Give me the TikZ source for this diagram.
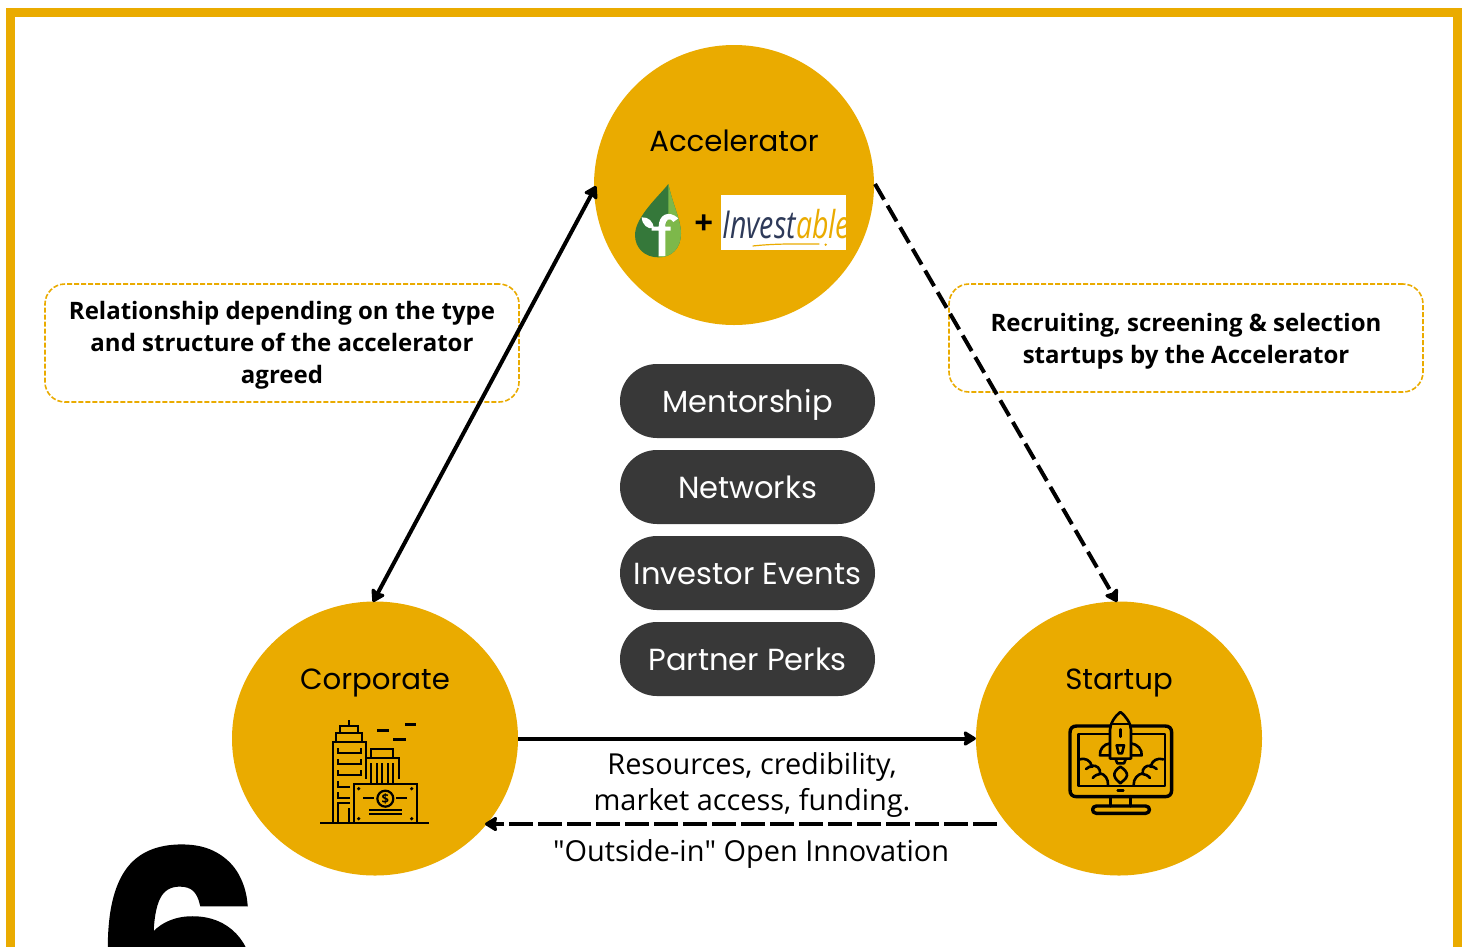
\documentclass[tikz,border=0pt]{standalone}
\usepackage{fontspec}
\usetikzlibrary{arrows.meta,shapes.geometric}
\setmainfont{Open Sans}
\newfontfamily\headfont{Poppins}
\font\qfont="Open Sans" at 28.9pt
\font\sixfont="Poppins/B:embolden=2" at 267pt
\definecolor{gold}{HTML}{EAAB00}
\definecolor{pillc}{HTML}{383838}
\definecolor{navy}{HTML}{2E3A59}
\definecolor{gdark}{HTML}{35783A}
\definecolor{glight}{HTML}{7DB84A}
\tikzset{
 x=1pt,y=-1pt,
 hub/.style={draw=none,fill=gold,ellipse,inner sep=0pt,minimum width=#1},
 hublabel/.style={font=\headfont\fontsize{29.2}{32}\selectfont,text=black,anchor=base,inner sep=0pt},
 pill/.style={fill=pillc,rounded corners=37pt,minimum width=255pt,minimum height=74pt,inner sep=0pt,text=white,text height=28pt,text depth=6pt,font=\headfont\fontsize{30.5}{32}\selectfont},
 notebox/.style={draw=gold,line width=1.6pt,dash pattern=on 5pt off 2pt,rounded corners=20pt,inner sep=0pt,align=center},
 notetext/.style={align=center,inner sep=0pt,font=\bfseries\fontsize{24}{32}\selectfont},
 conn/.style={line width=4pt,-{Stealth[length=14pt,width=17pt,inset=2pt,round]},black},
 connboth/.style={line width=4pt,{Stealth[length=14pt,width=17pt,inset=2pt,round]}-{Stealth[length=14pt,width=17pt,inset=2pt,round]},black},
 dconn/.style={conn,dash pattern=on 18pt off 7pt},
 dconnh/.style={conn,dash pattern=on 24pt off 5pt},
 captext/.style={font=\fontsize{28.9}{36}\selectfont,align=center,text=black},
 ico/.style={line width=2.2pt,black,line cap=butt,line join=miter},
 icoR/.style={line width=2.6pt,black,line cap=round,line join=round},
}
\begin{document}
\begin{tikzpicture}
\useasboundingbox (0,0) rectangle (1466,946);
\begin{scope}
\clip (0,0) rectangle (1466,946);
\fill[white] (0,0) rectangle (1466,946);
\draw[gold,line width=9pt] (10.5,12.5) rectangle (1457.5,1000);
% the big number
\node[font=\sixfont,text=black,anchor=base] (six) at (179,1046) {6};

% hubs
\node[hub=280pt,minimum height=280pt] (acc) at (734,185) {};
\node[hub=286pt,minimum height=274pt] (corp) at (375,738.5) {};
\node[hub=286pt,minimum height=274pt] (start) at (1119,738.5) {};
\node[hublabel] (acclabel) at (734,151) {Accelerator};
\node[hublabel] (corplabel) at (375,689) {Corporate};
\node[hublabel] (startlabel) at (1119,689) {Startup};

% note boxes
\node[notebox,minimum width=474pt,minimum height=118pt] (noteL) at (282,343) {};
\node[notetext] (noteLt) at (282,345) {Relationship depending on the type\\and structure of the accelerator\\agreed};
\node[notebox,minimum width=474pt,minimum height=108pt] (noteR) at (1186,338) {};
\node[notetext] (noteRt) at (1186,341) {Recruiting, screening \& selection\\startups by the Accelerator};

% pills
\node[pill] (p1) at (747.5,401) {Mentorship};
\node[pill] (p2) at (747.5,487) {Networks};
\node[pill] (p3) at (747.5,573) {Investor Events};
\node[pill] (p4) at (747.5,659) {Partner Perks};

% connectors
\coordinate (accW) at (596,186);
\coordinate (corpN) at (373,602);
\coordinate (accE) at (875,184);
\coordinate (startN) at (1117,602);
\coordinate (dashS) at (997,824);
\coordinate (dashE) at (485,824);
\draw[connboth] (accW) -- (corpN);
\draw[dconn] (accE) -- (startN);
\draw[conn] (corp.east) -- (start.west);
\draw[dconnh] (dashS) -- (dashE);

\node[captext] (res) at (752,785) {Resources, credibility,\hspace{7pt}\\market access, funding.};
\node[captext] (out) at (751,854) {{\qfont"}Outside-in{\qfont"} Open Innovation};

% accelerator logos
\begin{scope}[shift={(610,170)},scale=1/3]
 \fill[gdark] (175,42) .. controls (150,75) and (75,140) .. (75,195) .. controls (75,235) and (105,262) .. (145,262) .. controls (185,262) and (213,235) .. (213,190) .. controls (213,150) and (190,110) .. (175,42) -- cycle;
 \fill[glight] (175,42) .. controls (190,110) and (213,150) .. (213,190) .. controls (213,235) and (185,262) .. (145,262) -- (175,130) -- cycle;
 \fill[white] (146,258) -- (146,182) -- (125,182) -- (125,170) -- (146,170) .. controls (146,135) and (175,118) .. (205,145) -- (190,156) .. controls (178,140) and (166,148) .. (166,170) -- (182,170) -- (182,182) -- (166,182) -- (166,258) -- cycle;
 \fill[white] (95,142) .. controls (115,140) and (130,155) .. (132,175) .. controls (112,178) and (97,165) .. (95,142) -- cycle;
 \fill[white] (333,75) rectangle (708,240);
 \node[font=\bfseries\fontsize{33}{33}\selectfont,text=black] (plus) at (281,165) {+};
 \node[anchor=base east,inner sep=0pt,font=\itshape\fontsize{28.5}{30}\selectfont,text=navy] (logoA) at (558,205) {\scalebox{1}[1.35]{Invest}};
 \node[anchor=base west,inner sep=0pt,font=\itshape\fontsize{28.5}{30}\selectfont,text=gold] (logoB) at (558,205) {\scalebox{1}[1.35]{able}};
 \draw[gold,line width=1.2pt] (428,228) .. controls (500,220) and (570,222) .. (628,222);
 \fill[gold] (647,224) circle (4);
\end{scope}

% corporate icon
\begin{scope}[shift={(300,700)},scale=1/3]
 \draw[ico] (60,369) -- (387,369);
 \draw[ico] (98,369) -- (98,125) -- (197,125) -- (197,237);
 \draw[ico] (108,125) -- (108,98) -- (187,98) -- (187,125);
 \draw[ico] (120,98) -- (120,78) -- (174,78) -- (174,98);
 \draw[ico] (147,78) -- (147,60);
 \draw[ico] (113,145) -- (113,160) -- (182,160) -- (182,145);
 \draw[ico] (113,178) -- (113,193) -- (182,193) -- (182,178);
 \draw[ico] (113,211) -- (113,226) -- (182,226) -- (182,211);
 \draw[ico] (113,244) -- (113,260) -- (150,260);
 \draw[ico] (113,277) -- (113,293) -- (150,293);
 \draw[ico] (113,369) -- (113,310) -- (150,310);
 \draw[ico] (147,369) -- (147,325);
 \draw[ico] (197,175) -- (297,175) -- (297,237);
 \draw[ico] (212,175) -- (212,147) -- (280,147) -- (280,175);
 \foreach \cx in {213,230,247,263,280} \draw[ico] (\cx,190) -- (\cx,252);
 \draw[ico] (162,369) -- (162,252) -- (350,252) -- (350,369);
 \foreach \dx/\dy in {176/266,335/266,176/356,335/356} \fill (\dx,\dy) circle (5.5);
 \draw[ico] (256,296) circle (24);
 \node[font=\bfseries\fontsize{13}{13}\selectfont,text=black,inner sep=0pt] (dollar) at (256,296) {\$};
 \draw[ico] (189,295) -- (222,295);
 \draw[ico] (288,295) -- (321,295);
 \draw[ico] (207,331) -- (306,331);
 \draw[ico] (207,343) -- (306,343);
 \draw[line width=2.8pt] (231,91) -- (267,91);
 \draw[line width=2.8pt] (279,118) -- (318,118);
 \draw[line width=2.8pt] (315,73) -- (348,73);
\end{scope}

% startup icon
\begin{scope}[shift={(1050,700)},scale=1/3]
 \draw[icoR,line width=3.4pt] (80,78) -- (345,78) .. controls (358,78) and (365,85) .. (365,98) -- (365,270) .. controls (365,283) and (358,290) .. (345,290) -- (80,290) .. controls (67,290) and (60,283) .. (60,270) -- (60,98) .. controls (60,85) and (67,78) .. (80,78) -- cycle;
 \draw[icoR] (85,258) -- (85,102) -- (345,102) -- (345,258) -- cycle;
 \draw[icoR] (203,271) -- (220,271);
 \draw[icoR,line width=3.4pt] (182,290) -- (182,318);
 \draw[icoR,line width=3.4pt] (242,290) -- (242,318);
 \draw[icoR,line width=3.4pt] (139,318) -- (287,318) .. controls (302,318) and (302,340) .. (287,340) -- (139,340) .. controls (124,340) and (124,318) .. (139,318) -- cycle;
 % rocket
 \draw[icoR,fill=gold] (180,130) .. controls (160,132) and (148,150) .. (150,166) -- (180,166);
 \draw[icoR,fill=gold] (243,130) .. controls (263,132) and (277,150) .. (275,166) -- (243,166);
 \draw[icoR,fill=gold] (211,36) .. controls (195,48) and (180,70) .. (180,90) -- (180,176) -- (243,176) -- (243,90) .. controls (243,70) and (227,48) .. (211,36) -- cycle;
 \draw[icoR] (186,72) -- (237,72);
 \draw[icoR] (211,88) -- (211,110);
 \draw[icoR] (200,136) -- (222,136) -- (216,160) -- (206,160) -- cycle;
 \draw[icoR] (197,178) -- (202,190) -- (222,190) -- (227,178);
 \draw[icoR] (211,200) .. controls (198,208) and (192,218) .. (193,226) .. controls (195,238) and (205,243) .. (211,250) .. controls (217,243) and (229,238) .. (231,226) .. controls (232,218) and (224,208) .. (211,200) -- cycle;
 % smoke
 \draw[icoR] (88,178) .. controls (105,172) and (122,182) .. (125,197) .. controls (140,195) and (152,205) .. (150,220) .. controls (165,222) and (175,238) .. (174,254);
 \draw[icoR] (108,207) .. controls (115,200) and (122,198) .. (128,200);
 \draw[icoR] (128,234) .. controls (135,226) and (143,222) .. (150,222);
 \draw[icoR] (340,178) .. controls (323,172) and (306,182) .. (303,197) .. controls (288,195) and (276,205) .. (278,220) .. controls (263,222) and (250,238) .. (251,254);
 \draw[icoR] (320,207) .. controls (313,200) and (306,198) .. (300,200);
 \draw[icoR] (300,234) .. controls (293,226) and (285,222) .. (278,222);
\end{scope}
\end{scope}
\end{tikzpicture}
\end{document}
